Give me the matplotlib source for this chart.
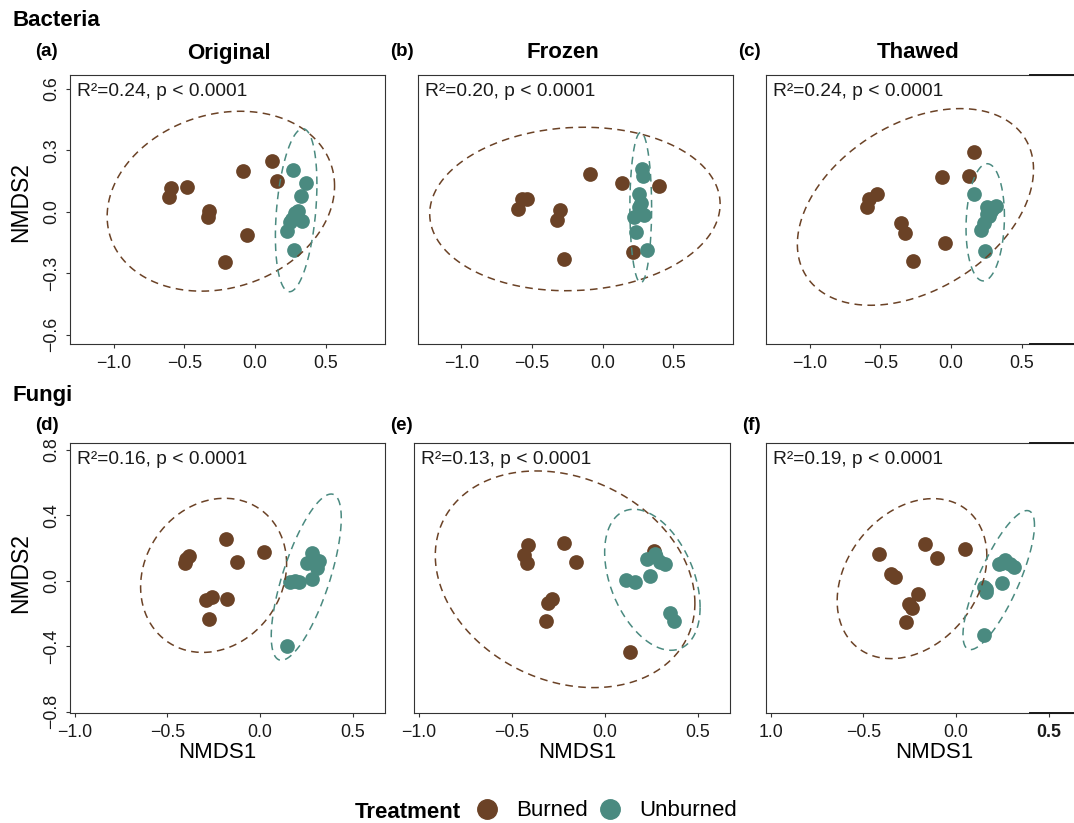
import numpy as np
import matplotlib
matplotlib.use("Agg")
import matplotlib.pyplot as plt
from matplotlib.lines import Line2D

plt.rcParams['font.family'] = ['Liberation Sans', 'DejaVu Sans']

BROWN = '#6B4226'
TEAL = '#4A8A80'
EDGE = '#333333'

# NMDS scores (x, y)
a_burned = [(-0.607, 0.072), (-0.596, 0.116), (-0.482, 0.119), (-0.326, 0.002), (-0.331, -0.023),
            (-0.210, -0.245), (-0.087, 0.201), (-0.054, -0.114), (0.118, 0.250), (0.154, 0.152)]
a_unburned = [(0.267, 0.206), (0.359, 0.140), (0.326, 0.075), (0.281, -0.007), (0.331, -0.044),
              (0.248, -0.051), (0.225, -0.093), (0.279, -0.186), (0.303, 0.002), (0.262, -0.036)]
b_burned = [(-0.597, 0.015), (-0.571, 0.062), (-0.538, 0.065), (-0.306, 0.007), (-0.327, -0.041),
            (-0.277, -0.232), (-0.090, 0.183), (0.133, 0.140), (0.398, 0.127), (0.216, -0.194)]
b_unburned = [(0.277, 0.210), (0.282, 0.173), (0.254, 0.085), (0.258, 0.026), (0.263, 0.002),
              (0.294, -0.015), (0.220, -0.026), (0.232, -0.100), (0.310, -0.184), (0.270, 0.045)]
c_burned = [(-0.596, 0.026), (-0.579, 0.062), (-0.525, 0.085), (-0.357, -0.052), (-0.324, -0.103),
            (-0.272, -0.240), (-0.061, 0.170), (-0.045, -0.152), (0.165, 0.290), (0.130, 0.176)]
c_unburned = [(0.161, 0.086), (0.253, 0.026), (0.319, 0.029), (0.284, 0.002), (0.253, -0.011),
              (0.232, -0.055), (0.213, -0.091), (0.241, -0.189), (0.300, 0.020), (0.270, -0.020)]
d_burned = [(-0.405, 0.106), (-0.383, 0.153), (-0.400, 0.130), (-0.183, 0.253), (0.022, 0.173),
            (-0.122, 0.112), (-0.257, -0.098), (-0.290, -0.120), (-0.180, -0.112), (-0.277, -0.233)]
d_unburned = [(0.282, 0.167), (0.318, 0.122), (0.252, 0.110), (0.309, 0.076), (0.282, 0.008),
              (0.210, -0.006), (0.165, -0.006), (0.144, -0.400), (0.291, 0.131), (0.190, 0.000)]
e_burned = [(-0.415, 0.218), (-0.433, 0.157), (-0.417, 0.106), (-0.217, 0.233), (-0.155, 0.112),
            (-0.282, -0.112), (-0.303, -0.133), (-0.316, -0.245), (0.139, -0.435), (0.265, 0.184)]
e_unburned = [(0.117, 0.004), (0.161, -0.006), (0.226, 0.131), (0.271, 0.163), (0.298, 0.116),
              (0.323, 0.100), (0.244, 0.031), (0.352, -0.200), (0.374, -0.245), (0.274, 0.147)]
f_burned = [(-0.413, 0.163), (-0.165, 0.224), (0.050, 0.194), (-0.101, 0.137), (-0.352, 0.041),
            (-0.330, 0.024), (-0.205, -0.082), (-0.251, -0.139), (-0.237, -0.169), (-0.269, -0.249)]
f_unburned = [(0.230, 0.100), (0.266, 0.127), (0.311, 0.086), (0.248, -0.012), (0.154, -0.037),
              (0.162, -0.067), (0.149, -0.333), (0.290, 0.105), (0.250, 0.110), (0.160, -0.050)]

# 95% ellipses: centre x, centre y, half-width, half-height, tilt
a_ell = [(-0.242, 0.052, 0.805, 0.439, 0.17), (0.291, 0.008, 0.147, 0.398, 0.32)]
b_ell = [(-0.197, 0.014, 1.028, 0.399, 0.06), (0.269, 0.021, 0.077, 0.367, 0.0)]
c_ell = [(-0.252, 0.024, 0.836, 0.480, 0.38), (0.242, -0.051, 0.136, 0.286, 0.10)]
d_ell = [(-0.250, 0.033, 0.394, 0.471, 0.15), (0.250, 0.022, 0.189, 0.508, 0.71)]
e_ell = [(-0.213, 0.009, 0.699, 0.662, -0.22), (0.257, 0.006, 0.257, 0.431, -0.39)]
f_ell = [(-0.237, 0.013, 0.404, 0.489, 0.28), (0.231, 0.004, 0.193, 0.425, 0.79)]

r2_text = ['0.24', '0.20', '0.24', '0.16', '0.13', '0.19']
titles = ['Original', 'Frozen', 'Thawed']
panel_tags = ['(a)', '(b)', '(c)', '(d)', '(e)', '(f)']

W, H = 1074, 823
fig = plt.figure(figsize=(W / 100, H / 100), dpi=100)


def box(left, top, right, bottom):
    return [left / W, 1 - bottom / H, (right - left) / W, (bottom - top) / H]


boxes = [box(70, 75, 385, 344), box(417.7, 75, 732.7, 344), box(766, 75, 1081, 344),
         box(70, 443.3, 385, 713.3), box(414.3, 443.3, 730, 713.3), box(766, 443.3, 1081, 713.3)]
points = [(a_burned, a_unburned), (b_burned, b_unburned), (c_burned, c_unburned),
          (d_burned, d_unburned), (e_burned, e_unburned), (f_burned, f_unburned)]
ells = [a_ell, b_ell, c_ell, d_ell, e_ell, f_ell]
xlab_pos = {3: 0.468, 4: 0.515, 5: 0.535}
ylab_pos = {0: 0.526, 3: 0.521}


def draw_ellipse(ax, cx, cy, sx, sy, r, color):
    t = np.linspace(0, 2 * np.pi, 300)
    x = cx + sx * np.cos(t)
    y = cy + sy * (r * np.cos(t) + np.sqrt(1 - r * r) * np.sin(t))
    ax.plot(x, y, color=color, lw=1.1, ls=(0, (5, 3.5)))


for i in range(6):
    ax = fig.add_axes(boxes[i])
    burned, unburned = points[i]
    bx, by = zip(*burned)
    ux, uy = zip(*unburned)
    ax.plot(bx, by, 'o', color=BROWN, ms=10.6, mec='none')
    ax.plot(ux, uy, 'o', color=TEAL, ms=10.6, mec='none')
    draw_ellipse(ax, *ells[i][0], BROWN)
    draw_ellipse(ax, *ells[i][1], TEAL)

    top = i < 3
    if top:
        ax.set_xlim(-1.31, 0.92)
        ax.set_ylim(-0.645, 0.668)
        ax.set_yticks([-0.6, -0.3, 0.0, 0.3, 0.6])
    else:
        ax.set_xlim(-1.025, 0.675)
        ax.set_ylim(-0.81, 0.84)
        ax.set_yticks([-0.8, -0.4, 0.0, 0.4, 0.8])
    ax.set_xticks([-1.0, -0.5, 0.0, 0.5])

    for s in ax.spines.values():
        s.set_color(EDGE)
        s.set_linewidth(0.8)
    ax.tick_params(direction='out', length=3, width=0.8, color=EDGE,
                   labelsize=12.8, labelcolor='#1a1a1a', pad=5)
    if i % 3 == 0:
        ax.tick_params(axis='y', labelrotation=90, pad=4)
        for lb in ax.get_yticklabels():
            lb.set_va('center')
        ax.set_ylabel('NMDS2', fontsize=16.5)
        ax.yaxis.set_label_coords(-0.12, ylab_pos[i])
    else:
        ax.tick_params(axis='y', left=False, labelleft=False)
    if not top:
        ax.set_xlabel('NMDS1', fontsize=16)
        ax.xaxis.set_label_coords(xlab_pos[i], -0.108)
    if i == 5:
        ax.set_xticklabels(['1.0', '\u22120.5', '0.0', '0.5'])
        ax.get_xticklabels()[3].set_fontweight('bold')

    ax.text(0.022, 0.94, 'R\u00b2=' + r2_text[i] + ', p < 0.0001', transform=ax.transAxes,
            ha='left', va='center', fontsize=13.8, color='#1a1a1a')

# group headers, titles and panel tags
fig.text(12 / W, 1 - 21 / H, 'Bacteria', fontsize=16, fontweight='bold', va='center')
fig.text(12 / W, 1 - 395 / H, 'Fungi', fontsize=16, fontweight='bold', va='center')
for x, t in zip([229, 563, 918], titles):
    fig.text(x / W, 1 - 53 / H, t, fontsize=16, fontweight='bold', ha='center', va='center')
tag_pos = [(35, 51), (390, 51), (738, 51), (35, 425), (390, 425), (742, 425)]
for (x, y), t in zip(tag_pos, panel_tags):
    fig.text(x / W, 1 - y / H, t, fontsize=13.5, fontweight='bold', ha='left', va='center')

# dark border fragments at the cut right edge
for y in [75, 344, 443.3, 713.3]:
    fig.add_artist(Line2D([1030 / W, 1], [1 - y / H, 1 - y / H], color='#1a1a1a', lw=1.4))

# legend
fig.text(355 / W, 1 - 812 / H, 'Treatment', fontsize=16, fontweight='bold', va='center')
handles = [Line2D([], [], marker='o', ls='', color=BROWN, ms=14, label='Burned'),
           Line2D([], [], marker='o', ls='', color=TEAL, ms=14, label='Unburned')]
fig.legend(handles=handles, loc='center left', bbox_to_anchor=(476 / W, 1 - 811 / H),
           ncol=2, frameon=False, fontsize=16, handlelength=1.0, handletextpad=0.8,
           columnspacing=0.5, borderpad=0, borderaxespad=0)

fig.savefig('out.png', dpi=100)
